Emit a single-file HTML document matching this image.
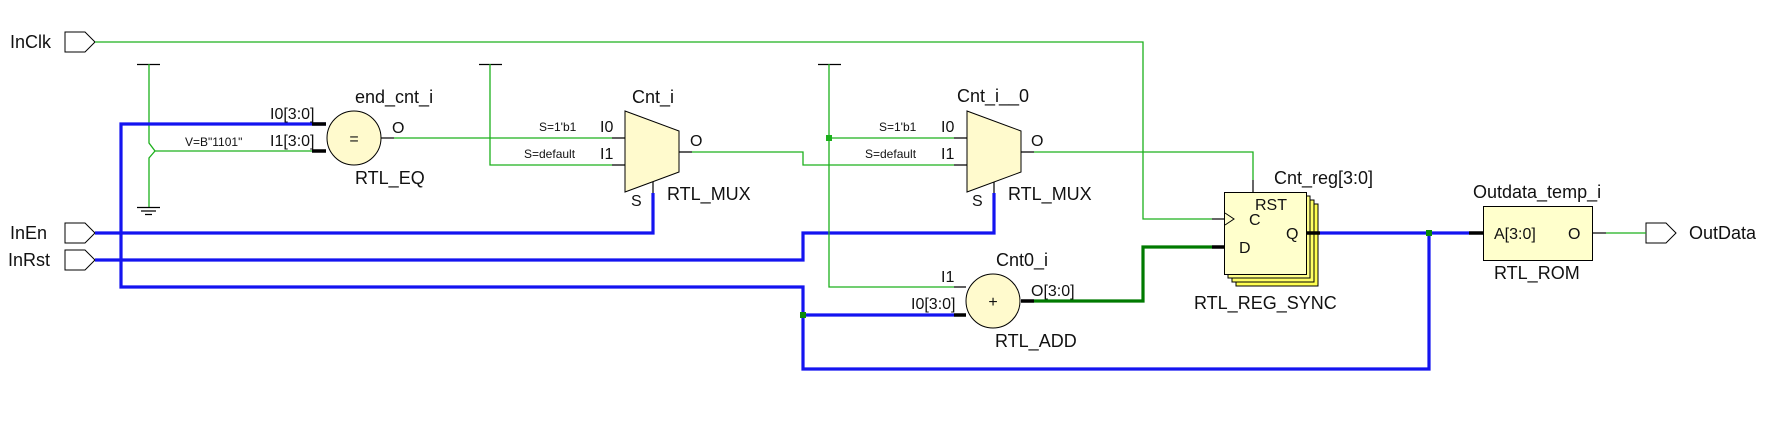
<!DOCTYPE html>
<html><head><meta charset="utf-8"><style>
html,body{margin:0;padding:0;background:#fff;}
svg{display:block;}
text{font-family:"Liberation Sans",Arial,sans-serif;fill:#111;}
.g{stroke:#1cb01c;stroke-width:1.3;fill:none;}
.b{stroke:#1414f0;stroke-width:3.2;fill:none;}
.gb{stroke:#007a00;stroke-width:3.2;fill:none;}
.k{stroke:#000;stroke-width:1.2;fill:none;}
.kb{stroke:#000;stroke-width:3.5;fill:none;}
.n{font-size:18px;}
.p{font-size:16px;}
.s{font-size:12px;}
</style></head><body>
<svg width="1775" height="427" viewBox="0 0 1775 427" xmlns="http://www.w3.org/2000/svg">
<!-- ports -->
<text class="n" x="10" y="48">InClk</text>
<path d="M65,32 H85 L95,42 L85,52 H65 Z" stroke="#000" stroke-width="1" fill="#fff"/>
<text class="n" x="10" y="239">InEn</text>
<path d="M65,223 H85 L95,233 L85,243 H65 Z" stroke="#000" stroke-width="1" fill="#fff"/>
<text class="n" x="8" y="266">InRst</text>
<path d="M65,250 H85 L95,260 L85,270 H65 Z" stroke="#000" stroke-width="1" fill="#fff"/>
<path d="M1646,223 H1666 L1676,233 L1666,243 H1646 Z" stroke="#000" stroke-width="1" fill="#fff"/>
<text class="n" x="1689" y="239">OutData</text>

<!-- clk -->
<path class="g" d="M95,42 H1143 V219 H1212"/>
<path class="k" d="M1212,219 H1225"/>

<!-- const 1 with ground -->
<path class="k" d="M137,64.5 H160"/>
<path class="g" d="M149,64 V143 L155,151 L149,158 V207"/>
<path class="k" d="M137,207.5 H160 M141,211 H156 M145,214.5 H152"/>
<path class="g" d="M155,151 H312"/>
<path class="kb" d="M312,151 H326"/>
<text class="s" x="185" y="146">V=B"1101"</text>

<!-- blue bus from Q -->
<path class="b" d="M1320,233 H1469"/>
<path class="b" d="M326,124 H121 V287 H803 V369 H1429 V233"/>
<path class="kb" d="M312,124 H326"/>
<path class="b" d="M803,315 H954"/>
<path class="kb" d="M954,315 H966"/>
<rect x="800" y="312" width="6" height="6" fill="#0a8a0a"/>
<rect x="1426" y="230" width="6" height="6" fill="#0a8a0a"/>

<!-- EQ -->
<circle cx="354" cy="138" r="27" fill="#fffacd" stroke="#000" stroke-width="1"/>
<text class="p" x="354" y="144" text-anchor="middle">=</text>
<text class="p" x="270" y="119">I0[3:0]</text>
<text class="p" x="270" y="146">I1[3:0]</text>
<text class="n" x="355" y="103">end_cnt_i</text>
<text class="p" x="392" y="133">O</text>
<text class="n" x="355" y="184">RTL_EQ</text>
<path class="k" d="M381,138 H394"/>
<path class="g" d="M394,138 H612"/>
<path class="k" d="M612,138 H625 M612,165 H625"/>

<!-- const 2 -->
<path class="k" d="M479,64.5 H502"/>
<path class="g" d="M490,64 V165 H612"/>

<!-- mux 1 -->
<polygon points="625,111 679,131 679,172 625,192" fill="#fffacd" stroke="#000" stroke-width="1"/>
<text class="s" x="539" y="131">S=1'b1</text>
<text class="p" x="600" y="132">I0</text>
<text class="s" x="524" y="158">S=default</text>
<text class="p" x="600" y="159">I1</text>
<text class="n" x="632" y="103">Cnt_i</text>
<text class="p" x="690" y="146">O</text>
<text class="n" x="667" y="200">RTL_MUX</text>
<text class="p" x="631" y="206">S</text>
<path class="k" d="M653,182 V193 M679,152 H692"/>
<path class="b" d="M653,193 V233 H95"/>
<path class="g" d="M692,152 H803 V165 H954"/>

<!-- InRst -->
<path class="b" d="M95,260 H803 V233 H994 V193"/>

<!-- const 3 -->
<path class="k" d="M818,64.5 H841"/>
<path class="g" d="M829,64 V287 H954"/>
<path class="g" d="M829,138 H954"/>
<rect x="826" y="135" width="6" height="6" fill="#1cb01c"/>
<path class="k" d="M954,138 H967 M954,165 H967 M954,287 H966"/>

<!-- mux 2 -->
<polygon points="967,111 1021,131 1021,172 967,192" fill="#fffacd" stroke="#000" stroke-width="1"/>
<text class="s" x="879" y="131">S=1'b1</text>
<text class="p" x="941" y="132">I0</text>
<text class="s" x="865" y="158">S=default</text>
<text class="p" x="941" y="159">I1</text>
<text class="n" x="957" y="102">Cnt_i__0</text>
<text class="p" x="1031" y="146">O</text>
<text class="n" x="1008" y="200">RTL_MUX</text>
<text class="p" x="972" y="206">S</text>
<path class="k" d="M994,182 V193 M1021,152 H1034 M1253,180 V193"/>
<path class="g" d="M1034,152 H1253 V180"/>

<!-- adder -->
<circle cx="993" cy="301" r="27" fill="#fffacd" stroke="#000" stroke-width="1"/>
<text class="p" x="993" y="307" text-anchor="middle">+</text>
<text class="p" x="941" y="282">I1</text>
<text class="p" x="911" y="309">I0[3:0]</text>
<text class="p" x="1031" y="296">O[3:0]</text>
<text class="n" x="996" y="266">Cnt0_i</text>
<text class="n" x="995" y="347">RTL_ADD</text>
<path class="kb" d="M1021,301 H1034"/>
<path class="gb" d="M1034,301 H1143 V247 H1212"/>
<path class="kb" d="M1212,247 H1225"/>

<!-- register -->
<rect x="1236" y="204" width="82" height="82" fill="#ffff50" stroke="#000" stroke-width="1"/>
<rect x="1232" y="200" width="82" height="82" fill="#ffff66" stroke="#000" stroke-width="1"/>
<rect x="1228" y="196" width="82" height="82" fill="#ffff88" stroke="#000" stroke-width="1"/>
<rect x="1224.5" y="192.5" width="82" height="82" fill="#ffffcc" stroke="#000" stroke-width="1"/>
<path d="M1225,213 L1234,219 L1225,225" stroke="#000" stroke-width="1" fill="none"/>
<text class="p" x="1255" y="210">RST</text>
<text class="p" x="1249" y="225">C</text>
<text class="p" x="1286" y="239">Q</text>
<text class="p" x="1239" y="253">D</text>
<text class="n" x="1274" y="184">Cnt_reg[3:0]</text>
<text class="n" x="1194" y="309">RTL_REG_SYNC</text>
<path class="kb" d="M1306,233 H1320"/>

<!-- ROM -->
<path class="kb" d="M1469,233 H1483"/>
<rect x="1483.5" y="206.5" width="109" height="54" fill="#ffffcc" stroke="#000" stroke-width="1"/>
<text class="p" x="1494" y="239">A[3:0]</text>
<text class="p" x="1568" y="239">O</text>
<text class="n" x="1473" y="198">Outdata_temp_i</text>
<text class="n" x="1494" y="279">RTL_ROM</text>
<path class="k" d="M1593,233 H1606"/>
<path class="g" d="M1606,233 H1646"/>
</svg>
</body></html>
